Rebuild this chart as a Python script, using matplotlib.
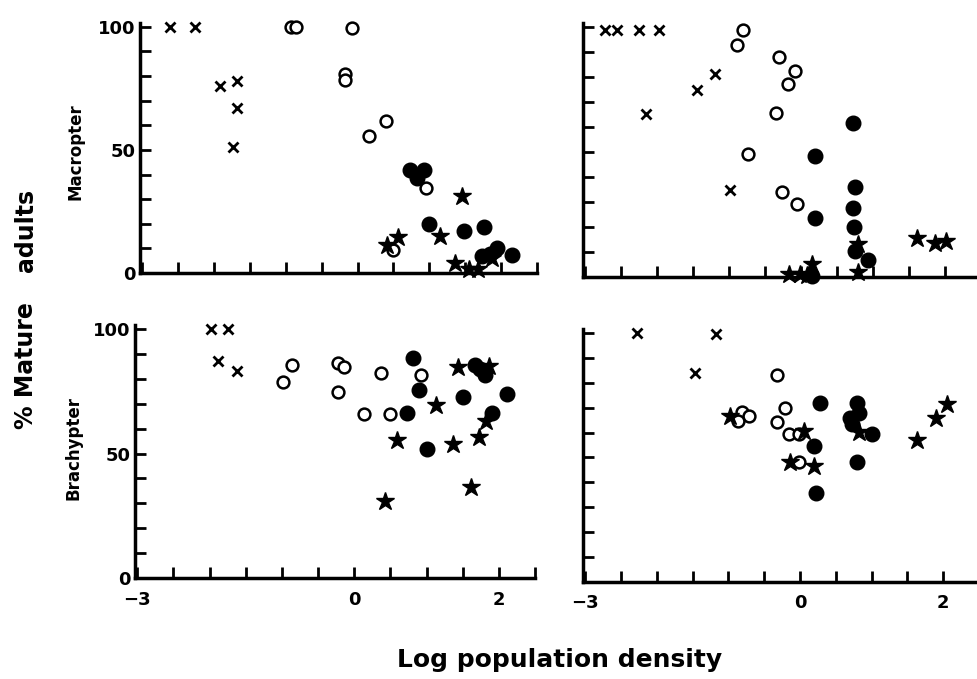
import numpy as np
import matplotlib
matplotlib.use("Agg")
import matplotlib.pyplot as plt

plt.rcParams['font.family'] = ['DejaVu Sans']
plt.rcParams['font.weight'] = 'bold'

# --- Macropter, left panel ---
tl_cross_x = [-2.61, -2.27, -1.91, -1.68, -1.68, -1.74]
tl_cross_y = [100, 100, 76, 78, 67, 51]
tl_open_x = [-0.92, -0.86, -0.07, -0.17, -0.17, 0.40, 0.16, 0.96, 0.50]
tl_open_y = [100, 100, 99.5, 80.8, 78.5, 61.9, 55.5, 34.5, 9.5]
tl_fill_x = [0.73, 0.93, 0.83, 1.00, 1.49, 1.76, 1.73, 1.85, 1.95, 2.15]
tl_fill_y = [41.9, 41.9, 38.5, 20.1, 17.2, 18.5, 6.8, 7.9, 10.3, 7.2]
tl_star_x = [1.46, 0.57, 0.41, 1.15, 1.36, 1.56, 1.68, 1.87]
tl_star_y = [31.2, 14.8, 11.5, 15.2, 3.9, 1.5, 1.5, 6.3]

# --- Macropter, right panel ---
tr_cross_x = [-2.73, -2.56, -2.25, -1.97, -1.45, -1.19, -2.15, -0.99]
tr_cross_y = [99, 99, 99, 99, 75, 81.3, 65.2, 35]
tr_open_x = [-0.80, -0.89, -0.31, -0.08, -0.18, -0.34, -0.73, -0.26, -0.05]
tr_open_y = [99, 92.7, 87.9, 82.3, 77.3, 65.8, 49.4, 34, 29.4]
tr_fill_x = [0.72, 0.20, 0.20, 0.76, 0.73, 0.74, 0.75, 0.94, 0.15]
tr_fill_y = [61.6, 48.4, 23.8, 35.9, 27.7, 20.1, 10.4, 7, 0.4]
tr_star_x = [-0.17, -0.01, 0.16, 0.79, 0.79, 1.62, 1.87, 2.02, 0.08]
tr_star_y = [1.2, 1.2, 5.4, 13.3, 2.1, 15.6, 13.5, 14.6, 1.0]

# --- Brachypter, left panel ---
bl_cross_x = [-1.98, -1.75, -1.88, -1.62]
bl_cross_y = [99.7, 100, 87.2, 82.9]
bl_open_x = [-0.86, -0.99, -0.22, -0.14, -0.22, 0.37, 0.93, 0.13, 0.49]
bl_open_y = [85.3, 78.7, 86.2, 84.5, 74.7, 82.2, 81.3, 66, 65.8]
bl_fill_x = [0.82, 0.89, 0.73, 1.00, 1.51, 1.67, 1.74, 1.81, 1.91, 2.11]
bl_fill_y = [88.4, 75.4, 66.4, 52, 72.8, 85.5, 84, 81.6, 66.4, 73.9]
bl_star_x = [1.43, 1.87, 1.13, 1.82, 1.73, 1.37, 0.59, 0.43, 1.61]
bl_star_y = [84.6, 84.9, 69.3, 63.2, 56.6, 53.9, 55.3, 30.9, 36.6]

# --- Brachypter, right panel ---
br_cross_x = [-2.27, -1.17, -1.46]
br_cross_y = [100, 99.7, 83.9]
br_open_x = [-0.32, -0.21, -0.32, -0.81, -0.71, -0.86, -0.15, -0.02, -0.01]
br_open_y = [83.2, 70, 64.1, 68.4, 66.7, 64.7, 59.4, 59.4, 48.2]
br_fill_x = [0.28, 0.19, 0.22, 0.80, 0.82, 0.70, 0.73, 1.00, 0.79]
br_fill_y = [71.7, 54.6, 35.7, 71.7, 67.8, 66, 63.4, 59.4, 48.2]
br_star_x = [-0.98, 0.06, -0.14, 0.20, 0.82, 1.63, 1.90, 2.06]
br_star_y = [66.7, 60.8, 48.2, 46.5, 60.4, 56.8, 65.8, 71.6]

x_ticks = np.arange(-3, 2.51, 0.5)
x_labels = ['\u22123' if t == -3 else '0' if t == 0 else '2' if t == 2 else ''
            for t in x_ticks]
y_ticks = np.arange(0, 101, 10)
y_labels = [str(t) if t in (0, 50, 100) else '' for t in y_ticks]

fig = plt.figure(figsize=(9.77, 6.79), dpi=100)

# axes boxes in figure fractions (left, bottom, width, height)
boxes = {
    'tl': [0.1433, 0.5979, 0.4063, 0.3682],
    'tr': [0.5967, 0.5920, 0.4070, 0.3737],
    'bl': [0.1382, 0.1483, 0.4094, 0.3731],
    'br': [0.5967, 0.1433, 0.4053, 0.3717],
}
panels = {
    'tl': (tl_cross_x, tl_cross_y, tl_open_x, tl_open_y, tl_fill_x, tl_fill_y, tl_star_x, tl_star_y),
    'tr': (tr_cross_x, tr_cross_y, tr_open_x, tr_open_y, tr_fill_x, tr_fill_y, tr_star_x, tr_star_y),
    'bl': (bl_cross_x, bl_cross_y, bl_open_x, bl_open_y, bl_fill_x, bl_fill_y, bl_star_x, bl_star_y),
    'br': (br_cross_x, br_cross_y, br_open_x, br_open_y, br_fill_x, br_fill_y, br_star_x, br_star_y),
}

for key, box in boxes.items():
    ax = fig.add_axes(box)
    cx, cy, ox, oy, fx, fy, sx, sy = panels[key]
    ax.plot(cx, cy, 'x', color='black', ms=7, mew=2.0, clip_on=False)
    ax.plot(ox, oy, 'o', mfc='white', mec='black', ms=8.5, mew=1.8, clip_on=False)
    ax.plot(fx, fy, 'o', color='black', ms=10.5, clip_on=False)
    ax.plot(sx, sy, '*', color='black', ms=13.5, clip_on=False)

    ax.set_xlim(-3.03, 2.5)
    ax.set_ylim(0, 101.5)
    for s in ('top', 'right'):
        ax.spines[s].set_visible(False)
    for s in ('left', 'bottom'):
        ax.spines[s].set_linewidth(2.5)
    ax.tick_params(direction='in', length=8, width=2, labelsize=13)
    ax.set_xticks(x_ticks)
    ax.set_yticks(y_ticks)
    ax.set_xticklabels(x_labels if key in ('bl', 'br') else [''] * len(x_ticks),
                       fontweight='bold')
    ax.set_yticklabels(y_labels if key in ('tl', 'bl') else [''] * len(y_ticks),
                       fontweight='bold')
    ax.tick_params(axis='y', pad=3)
    ax.tick_params(axis='x', pad=9)

fig.text(76 / 977, 1 - 152 / 679, 'Macropter', rotation=90, ha='center', va='center',
         fontsize=12, fontweight='bold')
fig.text(73 / 977, 1 - 448 / 679, 'Brachypter', rotation=90, ha='center', va='center',
         fontsize=12, fontweight='bold')
fig.text(26 / 977, 1 - 230 / 679, 'adults', rotation=90, ha='center', va='center',
         fontsize=17, fontweight='bold')
fig.text(26 / 977, 1 - 366 / 679, '% Mature', rotation=90, ha='center', va='center',
         fontsize=17, fontweight='bold')
fig.text(560 / 977, 1 - 660 / 679, 'Log population density', ha='center', va='center',
         fontsize=18, fontweight='bold')

fig.savefig('out.png', dpi=100)
